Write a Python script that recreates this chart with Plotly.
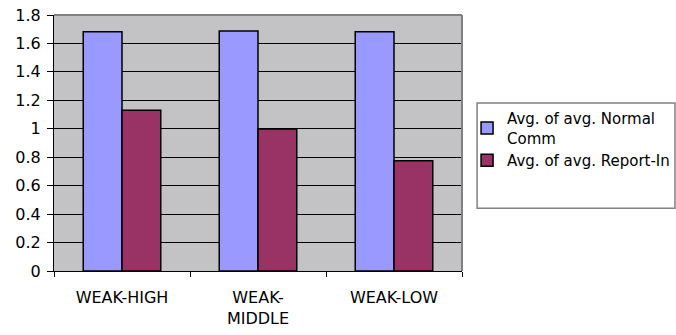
import plotly.graph_objects as go

categories = ["WEAK-HIGH", "WEAK-<br>MIDDLE", "WEAK-LOW"]
normal_comm = [1.683, 1.688, 1.683]
report_in = [1.13, 0.998, 0.775]
series_names = ["Avg. of avg. Normal<br>Comm", "Avg. of avg. Report-In"]
y_ticks = [0, 0.2, 0.4, 0.6, 0.8, 1, 1.2, 1.4, 1.6, 1.8]
y_tick_labels = ["0", "0.2", "0.4", "0.6", "0.8", "1", "1.2", "1.4", "1.6", "1.8"]

FONT = "DejaVu Sans"

fig = go.Figure()
fig.add_trace(go.Bar(x=categories, y=normal_comm, name=series_names[0],
                     marker=dict(color="#9999FF", line=dict(color="black", width=1.5))))
fig.add_trace(go.Bar(x=categories, y=report_in, name=series_names[1],
                     marker=dict(color="#993366", line=dict(color="black", width=1.5))))

fig.update_layout(
    width=676, height=335,
    margin=dict(l=54, r=214, t=15, b=64, pad=0, autoexpand=False),
    paper_bgcolor="white",
    plot_bgcolor="#C3C3C6",
    barmode="group",
    bargap=0.43,
    bargroupgap=0,
    font=dict(family=FONT, size=16, color="black"),
    showlegend=True,
    legend=dict(
        x=1.0124, xanchor="left", y=0.66, yanchor="top",
        font=dict(family=FONT, size=15, color="black"),
        bgcolor="rgba(0,0,0,0)", borderwidth=0,
        itemwidth=30, tracegroupgap=8,
    ),
    shapes=[
        dict(type="rect", xref="paper", yref="paper", x0=1.037, x1=1.522, y0=0.245, y1=0.656,
             line=dict(color="#808080", width=1.5), fillcolor="rgba(0,0,0,0)"),
        dict(type="line", xref="paper", yref="paper", x0=0, x1=1, y0=1, y1=1,
             line=dict(color="#808080", width=2), layer="above"),
        dict(type="line", xref="paper", yref="paper", x0=1, x1=1, y0=0, y1=1,
             line=dict(color="#808080", width=2), layer="above"),
    ],
)

fig.update_xaxes(
    showline=True, linecolor="black", linewidth=1,
    ticks="outside", tickson="boundaries", ticklen=5, tickcolor="black",
    tickfont=dict(family=FONT, size=16), ticklabelstandoff=12,
    showgrid=False, zeroline=False, automargin=False,
)
fig.update_yaxes(
    range=[0, 1.8], tickvals=y_ticks, ticktext=y_tick_labels,
    showline=True, linecolor="black", linewidth=1,
    ticks="outside", ticklen=6, tickcolor="black",
    tickfont=dict(family=FONT, size=16), ticklabelstandoff=3,
    showgrid=True, gridcolor="black", gridwidth=1,
    zeroline=False, automargin=False,
)

fig.write_html("out.html", config={"displayModeBar": False},
               post_script="document.body.style.margin='0px';")
